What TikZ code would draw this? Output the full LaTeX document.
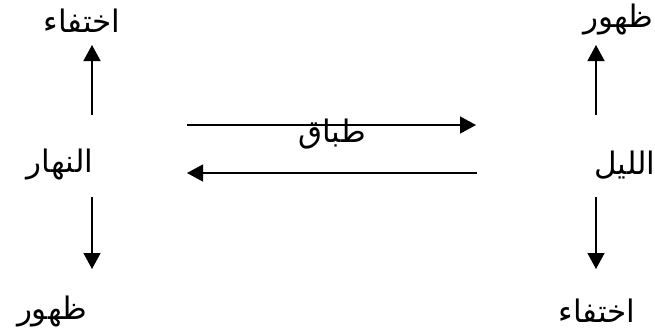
\documentclass[tikz,border=0pt]{standalone}
\usepackage{fontspec}
\newfontfamily\arabicfont[Script=Arabic]{DejaVu Sans}
\TeXXeTstate=1
\usetikzlibrary{arrows.meta}

\begin{document}
\begin{tikzpicture}[x=1pt, y=-1pt, >={Triangle[length=16pt,width=17pt]},
    word/.style={font=\fontsize{31}{34}\selectfont\arabicfont, inner sep=0pt},
    arr/.style={->, line width=1.3pt}]
    \useasboundingbox (0,0) rectangle (655,333);

    % Day column
    \node [word] (ikhtifaDay) at (82,21) {\beginR اختفاء\endR};
    \node [word] (nahar) at (60,165) {\beginR النهار\endR};
    \node [word] (zuhurDay) at (52,311) {\beginR ظهور\endR};
    \coordinate (dayUpA) at (92,115);
    \coordinate (dayUpB) at (92,45);
    \coordinate (dayDnA) at (92,197);
    \coordinate (dayDnB) at (92,269);
    \draw [arr] (dayUpA) -- (dayUpB);
    \draw [arr] (dayDnA) -- (dayDnB);

    % Night column
    \node [word] (zuhurNight) at (618,20) {\beginR ظهور\endR};
    \node [word] (layl) at (625,165) {\beginR الليل\endR};
    \node [word] (ikhtifaNight) at (597,311) {\beginR اختفاء\endR};
    \coordinate (nightUpA) at (596,115);
    \coordinate (nightUpB) at (596,45);
    \coordinate (nightDnA) at (596,197);
    \coordinate (nightDnB) at (596,269);
    \draw [arr] (nightUpA) -- (nightUpB);
    \draw [arr] (nightDnA) -- (nightDnB);

    % Middle
    \coordinate (topL) at (187,125);
    \coordinate (topR) at (476,125);
    \coordinate (botR) at (477,173);
    \coordinate (botL) at (187,173);
    \draw [arr] (topL) -- (topR);
    \draw [arr] (botR) -- (botL);
    \node [word] (tibaq) at (332,134) {\beginR طباق\endR};
\end{tikzpicture}
\end{document}
